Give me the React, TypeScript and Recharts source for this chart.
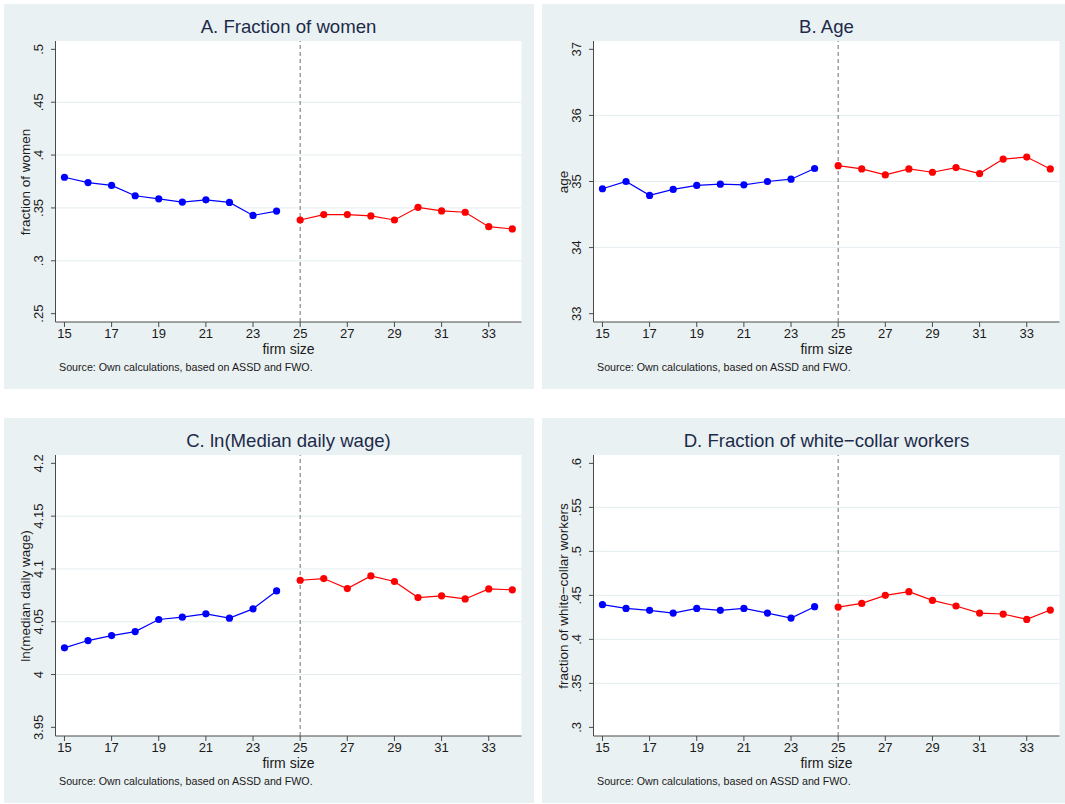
import { LineChart, Line, XAxis, YAxis, CartesianGrid, ReferenceLine } from 'recharts';

// firm size on the x axis, shared by all four panels
const SIZES = [15, 16, 17, 18, 19, 20, 21, 22, 23, 24, 25, 26, 27, 28, 29, 30, 31, 32, 33, 34];
const X_TICKS = [15, 17, 19, 21, 23, 25, 27, 29, 31, 33];
const THRESHOLD = 25;

const WOMEN = [
  0.379, 0.374, 0.3713, 0.3615, 0.3586, 0.3555, 0.3577, 0.3552, 0.3429, 0.347,
  0.3386, 0.3437, 0.3437, 0.3424, 0.3386, 0.3506, 0.3472, 0.3459, 0.3323, 0.3301,
];
const AGE = [
  34.89, 35.0, 34.79, 34.88, 34.94, 34.96, 34.95, 35.0, 35.035, 35.197,
  35.24, 35.19, 35.1, 35.19, 35.14, 35.21, 35.12, 35.34, 35.37, 35.19,
];
const WAGE = [
  4.0253, 4.0322, 4.0369, 4.0407, 4.0521, 4.0543, 4.0575, 4.0534, 4.0622, 4.0792,
  4.0893, 4.0909, 4.0814, 4.0934, 4.0881, 4.0729, 4.0745, 4.0716, 4.0811, 4.0802,
];
const WHITE_COLLAR = [
  0.4394, 0.4352, 0.433, 0.4299, 0.4352, 0.433, 0.4352, 0.4299, 0.4242, 0.4371,
  0.4367, 0.4409, 0.45, 0.4542, 0.4443, 0.4379, 0.4299, 0.4288, 0.4227, 0.4333,
];

const WOMEN_TICKS = [0.25, 0.3, 0.35, 0.4, 0.45, 0.5];
const AGE_TICKS = [33, 34, 35, 36, 37];
const WAGE_TICKS = [3.95, 4, 4.05, 4.1, 4.15, 4.2];
const WHITE_COLLAR_TICKS = [0.3, 0.35, 0.4, 0.45, 0.5, 0.55, 0.6];

const SOURCE = 'Source: Own calculations, based on ASSD and FWO.';
const FONT = '"Liberation Sans", Arial, Helvetica, sans-serif';
const BG = '#eaf1f3';
const AXIS = '#4a4a4a';

// panel geometry (px, relative to the panel box)
const PW = 530;
const PH = 385;
const PLOT_L = 51.5;
const PLOT_T = 37;
const PLOT_R = 12.5;
const PLOT_B = 67;
const PLOT_CX = PLOT_L + (PW - PLOT_L - PLOT_R) / 2;

// Stata drops the leading zero on decimals
const stata = (v: number) => String(v).replace(/^0\./, '.');

function YTick({ x, y, payload }: any) {
  const cx = x - 13;
  return (
    <text x={cx} y={y} transform={`rotate(-90 ${cx} ${y})`} textAnchor="middle" dy="0.35em"
      fontSize={13} fontFamily={FONT} fill="#1a1a1a">
      {stata(payload.value)}
    </text>
  );
}

function XTick({ x, y, payload }: any) {
  return (
    <text x={x} y={y + 6} textAnchor="middle" dy="0.35em" fontSize={13} fontFamily={FONT} fill="#1a1a1a">
      {payload.value}
    </text>
  );
}

interface PanelProps {
  left: number;
  top: number;
  title: string;
  yTitle: string;
  values: number[];
  ticks: number[];
  domain: [number, number];
}

function Panel({ left, top, title, yTitle, values, ticks, domain }: PanelProps) {
  const rows = SIZES.map((s, i) => ({
    size: s,
    below: s < THRESHOLD ? values[i] : null,
    above: s >= THRESHOLD ? values[i] : null,
  }));
  const gridValues = ticks.slice(1, -1);
  return (
    <div style={{ position: 'absolute', left, top, width: PW, height: PH, background: BG, fontFamily: FONT }}>
      <div style={{
        position: 'absolute', left: PLOT_CX, top: 23, transform: 'translate(-50%,-50%)',
        fontSize: 18.6, lineHeight: 1, color: '#1c2b4a', whiteSpace: 'nowrap',
      }}>{title}</div>
      <LineChart width={PW} height={PH} data={rows}
        margin={{ top: PLOT_T, right: PLOT_R, left: 0, bottom: 0 }}>
        <CartesianGrid fill="#ffffff" vertical={false} horizontalValues={gridValues}
          stroke="#e4edf0" strokeWidth={1} />
        <XAxis dataKey="size" type="number" domain={[14.62, 34.39]} ticks={X_TICKS}
          allowDataOverflow height={PLOT_B} tickSize={5} tickMargin={0} tick={<XTick />}
          axisLine={{ stroke: AXIS }} tickLine={{ stroke: AXIS }} interval={0} />
        <YAxis type="number" domain={domain} ticks={ticks} allowDataOverflow width={PLOT_L}
          tickSize={4.5} tickMargin={0} tick={<YTick />} interval={0}
          axisLine={{ stroke: AXIS }} tickLine={{ stroke: AXIS }} />
        <ReferenceLine x={THRESHOLD} stroke="#6f6f6f" strokeDasharray="4 3" strokeWidth={1} />
        <Line dataKey="below" stroke="#0000ff" strokeWidth={1.2} isAnimationActive={false}
          dot={{ r: 3.6, fill: '#0000ff', stroke: '#0000ff', strokeWidth: 0 }} activeDot={false} />
        <Line dataKey="above" stroke="#ff0000" strokeWidth={1.2} isAnimationActive={false}
          dot={{ r: 3.6, fill: '#ff0000', stroke: '#ff0000', strokeWidth: 0 }} activeDot={false} />
      </LineChart>
      <div style={{
        position: 'absolute', left: 21.5, top: PLOT_T + (PH - PLOT_T - PLOT_B) / 2,
        transform: 'translate(-50%,-50%) rotate(-90deg)', fontSize: 13.5, lineHeight: 1,
        color: '#1a1a1a', whiteSpace: 'nowrap',
      }}>{yTitle}</div>
      <div style={{
        position: 'absolute', left: PLOT_CX, top: 345, transform: 'translate(-50%,-50%)',
        fontSize: 14, lineHeight: 1, color: '#1a1a1a', whiteSpace: 'nowrap',
      }}>firm size</div>
      <div style={{
        position: 'absolute', left: 55, top: 363, transform: 'translateY(-50%)',
        fontSize: 10.7, lineHeight: 1, color: '#1a1a1a', whiteSpace: 'nowrap',
      }}>{SOURCE}</div>
    </div>
  );
}

export default function App() {
  return (
    <div style={{
      position: 'absolute', left: 0, top: 0, width: 1065, height: 804,
      overflow: 'hidden', background: '#ffffff',
    }}>
      <Panel left={4} top={4} title="A. Fraction of women" yTitle="fraction of women"
        values={WOMEN} ticks={WOMEN_TICKS} domain={[0.2421, 0.5079]} />
      <Panel left={542} top={4} title="B. Age" yTitle="age"
        values={AGE} ticks={AGE_TICKS} domain={[32.874, 37.126]} />
      <Panel left={4} top={418} title="C. ln(Median daily wage)" yTitle="ln(median daily wage)"
        values={WAGE} ticks={WAGE_TICKS} domain={[3.9418, 4.2079]} />
      <Panel left={542} top={418} title="D. Fraction of white−collar workers"
        yTitle="fraction of white−collar workers"
        values={WHITE_COLLAR} ticks={WHITE_COLLAR_TICKS} domain={[0.2902, 0.6095]} />
    </div>
  );
}
